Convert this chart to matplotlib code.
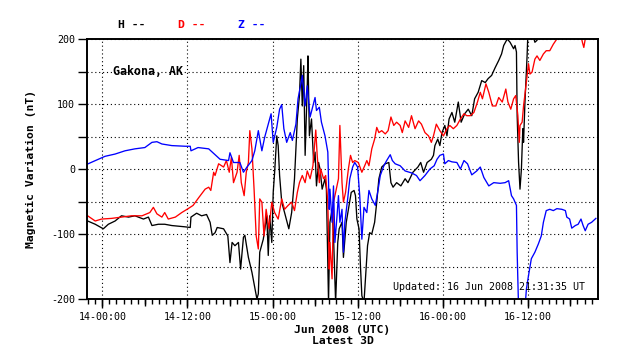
import matplotlib
matplotlib.use("Agg")
import matplotlib.pyplot as plt
from matplotlib.ticker import MultipleLocator, FuncFormatter, NullFormatter
import numpy as np

# hours since 14 Jun 2008 00:00 UTC
h_time = [-2.07, -1.0, -0.5, 0.14, 0.85, 1.8, 2.7, 3.7, 4.6, 5.8, 6.5, 7.0, 7.9, 8.8, 9.8, 11.7, 12.4, 12.5,
          13.3, 14.0, 14.7, 15.2, 15.5, 15.9, 16.2, 17.1, 17.7, 18.0, 18.3, 18.7, 19.2, 19.5, 19.9, 20.1, 20.6,
          21.1, 21.5, 21.8, 22.0, 22.2, 22.7, 23.2, 23.4, 23.6, 23.9, 24.1, 24.3, 24.6, 24.8, 25.0, 25.3, 25.7,
          26.3, 26.7, 27.1, 27.5, 27.8, 28.0, 28.2, 28.4, 28.6, 28.9, 29.0, 29.2, 29.5, 29.8, 30.0, 30.2, 30.5,
          30.7, 31.0, 31.4, 31.6, 31.9, 32.1, 32.4, 32.6, 32.9, 33.2, 33.4, 33.8, 34.0, 34.4, 34.8, 35.1, 35.5,
          35.7, 35.9, 36.2, 36.4, 36.6, 36.9, 37.2, 37.4, 37.7, 38.0, 38.4, 38.7, 39.0, 39.4, 39.9, 40.4, 40.7,
          41.0, 41.5, 42.1, 42.7, 43.1, 43.8, 44.5, 44.9, 45.3, 45.8, 46.4, 46.7, 46.9, 47.3, 47.6, 47.9, 48.3,
          48.6, 48.9, 49.3, 49.7, 50.2, 50.6, 51.1, 51.6, 52.1, 52.5, 53.0, 53.5, 54.0, 54.4, 54.9, 55.4, 55.9,
          56.3, 56.6, 57.1, 57.5, 58.0, 58.2, 58.4, 58.5, 58.7, 58.9, 59.1, 59.3, 59.4, 59.6, 59.9, 60.0, 60.5,
          61.0, 61.3, 61.6, 65.0, 69.6]
h_vals = [-80, -85, -88, -92, -85, -80, -72, -74, -72, -77, -74, -87, -85, -85, -87, -89, -90, -74,
          -68, -72, -70, -82, -102, -98, -90, -92, -103, -144, -113, -118, -113, -154, -105, -102, -136,
          -159, -182, -200, -192, -128, -108, -72, -133, -72, -113, -36, -5, 51, 36, -10, -51, -67,
          -92, -67, -15, 77, 113, 169, 97, 159, 21, 128, 174, 51, 77, 10, 26, -26, 10,
          0, -31, -15, -31, -205, -82, -62, -103, -205, -113, -92, -82, -136, -82, -56, -36, -33,
          -41, -77, -92, -149, -195, -205, -154, -118, -98, -100, -82, -51, -15, 3, 8, 10, -21,
          -28, -21, -26, -15, -21, -5, 3, 10, -5, 10, 15, 21, 36, 46, 36, 56, 67,
          51, 77, 87, 72, 103, 72, 85, 92, 82, 108, 118, 136, 133, 139, 144, 156, 167,
          177, 190, 200, 195, 185, 190, 180, 82, 10, -31, 0, 62, 41, 103, 174, 205, 215,
          195, 198, 215, 230, 240]

d_time = [-2.07, -1.0, -0.1, 1.3, 2.7, 4.1, 5.6, 6.7, 7.2, 7.7, 8.4, 8.8, 9.3, 10.3, 11.2, 12.1, 12.8,
          13.6, 14.5, 15.0, 15.3, 15.7, 15.9, 16.4, 17.1, 17.5, 17.9, 18.2, 18.5, 19.0, 19.3, 19.6, 20.0,
          20.3, 20.6, 20.8, 21.1, 21.4, 21.7, 22.0, 22.2, 22.5, 22.8, 23.1, 23.5, 23.9, 24.3, 24.8, 25.3,
          25.7, 26.2, 26.7, 27.1, 27.5, 27.8, 28.2, 28.6, 28.9, 29.3, 29.7, 30.1, 30.3, 30.6, 30.8, 31.2,
          31.5, 31.8, 32.0, 32.1, 32.4, 32.6, 32.9, 33.3, 33.5, 33.8, 34.0, 34.3, 34.7, 35.0, 35.3, 35.6,
          36.1, 36.6, 37.0, 37.3, 37.6, 38.0, 38.4, 38.7, 39.0, 39.4, 39.9, 40.3, 40.7, 41.1, 41.5, 42.0,
          42.3, 42.7, 43.2, 43.6, 44.1, 44.6, 45.0, 45.5, 46.0, 46.4, 46.7, 47.1, 47.6, 48.1, 48.6, 49.0,
          49.5, 50.0, 50.5, 51.0, 51.4, 51.9, 52.4, 52.9, 53.3, 53.6, 54.1, 54.5, 55.0, 55.5, 55.9, 56.4,
          56.9, 57.2, 57.6, 58.0, 58.3, 58.6, 58.8, 58.9, 59.2, 59.4, 59.6, 59.9, 60.1, 60.3, 60.6, 61.0,
          61.3, 61.7, 62.2, 62.6, 63.1, 63.6, 64.1, 64.6, 67.5, 67.7, 67.9, 68.1, 68.4, 69.6]
d_vals = [-72, -80, -77, -76, -74, -72, -72, -67, -59, -69, -74, -67, -77, -74, -67, -61, -56,
          -44, -31, -28, -33, -5, -10, 8, 3, 13, -5, 18, -21, -5, 21, -21, -41,
          -5, 10, 59, 31, -31, -103, -123, -46, -51, -103, -62, -92, -51, -67, -77, -46,
          -62, -56, -51, -64, -36, -21, -10, -21, -3, -15, 5, 60, 21, -21, 0, -15,
          -10, -51, -154, -113, -169, -51, -36, -15, 67, -21, -51, -36, 0, 21, 10, 13,
          10, -5, 5, 13, 5, 31, 46, 64, 56, 59, 54, 59, 80, 67, 72, 67,
          56, 74, 64, 82, 62, 74, 69, 56, 51, 41, 51, 69, 59, 51, 62, 67,
          62, 67, 77, 85, 82, 82, 87, 103, 118, 108, 131, 118, 97, 97, 110, 103,
          123, 103, 92, 108, 113, 82, 41, 67, 72, 97, 115, 144, 162, 146, 149, 169,
          174, 167, 177, 182, 182, 192, 200, 205, 205, 195, 187, 200, 212, 215]

z_time = [-2.07, -0.56, 0.38, 1.8, 3.2, 4.6, 6.0, 7.0, 7.7, 8.4, 9.8, 11.7, 12.4, 12.5, 13.5, 15.0, 15.8,
          16.6, 17.8, 18.0, 18.5, 19.4, 19.9, 20.4, 21.1, 21.5, 22.0, 22.5, 22.9, 23.4, 23.8, 24.1, 24.6,
          25.0, 25.3, 25.6, 26.0, 26.5, 26.8, 27.3, 27.6, 28.0, 28.2, 28.6, 28.9, 29.3, 29.7, 30.0, 30.2,
          30.6, 30.9, 31.4, 31.8, 32.0, 32.1, 32.4, 32.6, 32.8, 33.1, 33.3, 33.5, 33.8, 34.0, 34.2, 34.6,
          34.9, 35.3, 35.6, 36.0, 36.3, 36.6, 36.9, 37.3, 37.6, 38.0, 38.5, 38.9, 39.2, 39.7, 40.1, 40.6,
          40.9, 41.3, 42.0, 42.7, 43.6, 44.3, 44.8, 45.5, 46.2, 46.8, 47.2, 47.6, 48.1, 48.3, 48.8, 49.3,
          50.0, 50.5, 51.0, 51.5, 52.1, 52.8, 53.3, 53.8, 54.5, 55.2, 56.1, 56.8, 57.3, 57.7, 58.0, 58.4,
          58.5, 58.7, 59.6, 59.8, 60.1, 60.5, 61.0, 61.5, 61.9, 62.2, 62.6, 63.1, 63.6, 64.1, 64.8, 65.3,
          65.5, 65.9, 66.2, 66.7, 67.1, 67.5, 67.8, 68.1, 68.5, 69.0, 69.6]
z_vals = [7.7, 15, 19.5, 23, 28, 31, 33, 41, 42, 38.5, 36, 35, 35, 28, 33, 31, 23,
          15, 13, 25, 10, 10, -5, 3, 13, 28, 59, 28, 49, 69, 85, 41, 64,
          92, 99, 62, 41, 56, 44, 69, 108, 131, 144, 97, 128, 80, 97, 110, 90,
          95, 72, 51, 26, -62, -31, -82, -26, -113, -72, -41, -82, -62, -128, -82, -46,
          -15, 3, 10, 3, -41, -108, -59, -67, -33, -46, -56, -31, -10, 5, 13, 22,
          13, 8, 5, -3, -6, -10, -18, -10, 0, 5, 15, 21, 23, 8, 13, 11,
          10, 0, 13, 8, -9, -3, 3, -13, -26, -21, -22, -21, -18, -41, -46, -56,
          -128, -215, -215, -185, -164, -138, -128, -115, -103, -82, -64, -62, -64, -61, -62, -64,
          -74, -77, -91, -87, -85, -77, -87, -95, -85, -82, -76]

series_names = ["H", "D", "Z"]
series_colors = ["black", "red", "blue"]

W, H = 638, 359
fig = plt.figure(figsize=(W / 100, H / 100), dpi=100)
ax = fig.add_axes([87 / W, 60 / H, 511 / W, 260 / H])

ax.plot(h_time, h_vals, color="black", lw=0.95)
ax.plot(d_time, d_vals, color="red", lw=0.95)
ax.plot(z_time, z_vals, color="blue", lw=0.95)

ax.set_xlim(-2.16, 69.9)
ax.set_ylim(-200, 200)

mono = "DejaVu Sans Mono"

# y axis ticks
ax.yaxis.set_major_locator(MultipleLocator(50))
ax.yaxis.set_major_formatter(FuncFormatter(lambda v, p: f"{int(v)}" if v % 100 == 0 else ""))
ax.tick_params(axis="y", direction="out", length=6.5, width=1, pad=2, labelsize=7.2)

# x axis ticks
def xfmt(v, p):
    v = int(round(v))
    if v % 12:
        return ""
    day = 14 + v // 24
    hr = v % 24
    return f"{day}-{hr:02d}:00"

ax.xaxis.set_major_locator(MultipleLocator(12))
ax.xaxis.set_major_formatter(FuncFormatter(xfmt))
ax.xaxis.set_minor_locator(MultipleLocator(1))
ax.tick_params(axis="x", which="major", direction="out", length=6.5, width=1, pad=3, labelsize=7.2)
ax.tick_params(axis="x", which="minor", direction="out", length=3.6, width=1)

sec = ax.secondary_xaxis("bottom")
sec.xaxis.set_major_locator(MultipleLocator(6))
sec.xaxis.set_major_formatter(NullFormatter())
sec.tick_params(axis="x", direction="out", length=5.2, width=1)
sec.spines["bottom"].set_visible(False)

for lab in ax.get_xticklabels() + ax.get_yticklabels():
    lab.set_fontfamily(mono)

ax.grid(True, which="major", color="black", linestyle=(0, (1, 2.5)), linewidth=0.8)

for s in ax.spines.values():
    s.set_linewidth(1.4)

ax.set_xlabel("Jun 2008 (UTC)\nLatest 3D", fontfamily=mono, fontweight="bold", fontsize=8.2,
              labelpad=2, linespacing=1.1)
ax.set_ylabel("Magnetic Variation (nT)", fontfamily=mono, fontweight="bold", fontsize=8.2, labelpad=11)

ax.text(1.5, 150, "Gakona, AK", fontfamily=mono, fontweight="bold", fontsize=8.4,
        va="center", ha="left")
ax.text(0.975, 0.025, "Updated: 16 Jun 2008 21:31:35 UT", transform=ax.transAxes,
        fontfamily=mono, fontsize=7.2, ha="right", va="bottom")

legend_x = [118, 178, 238]
for name, col, lx in zip(series_names, series_colors, legend_x):
    fig.text(lx / W, 1 - 25 / H, f"{name} --", color=col, fontfamily=mono, fontweight="bold",
             fontsize=8.2, ha="left", va="center")

fig.savefig("out.png", dpi=100)
